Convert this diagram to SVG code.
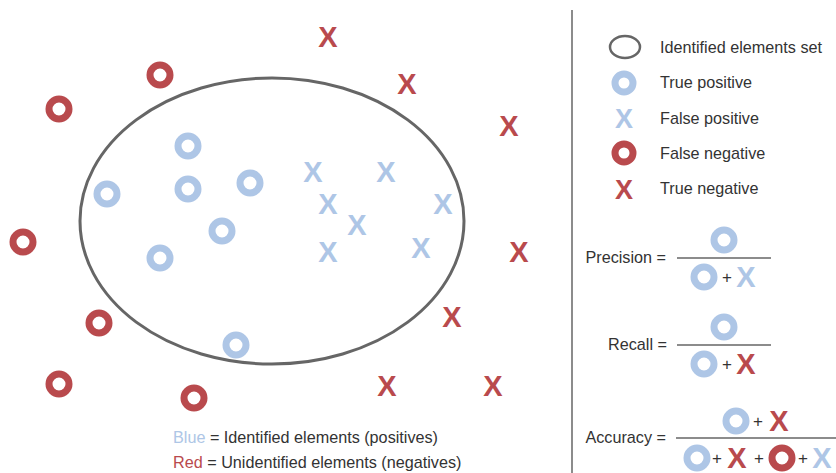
<svg xmlns="http://www.w3.org/2000/svg" width="836" height="473" viewBox="0 0 836 473">
<style>
.bo{fill:none;stroke:#aec6e6;stroke-width:7}
.ro{fill:none;stroke:#b94a4d;stroke-width:7}
.bx{fill:#aec6e6;font-family:"Liberation Sans",Arial,sans-serif;font-weight:bold;font-size:29px;text-anchor:middle}
.rx{fill:#b94a4d;font-family:"Liberation Sans",Arial,sans-serif;font-weight:bold;font-size:29px;text-anchor:middle}
.t{fill:#333;font-family:"Liberation Sans",Arial,sans-serif;font-size:16.2px}
.pl{fill:#333;font-family:"Liberation Sans",Arial,sans-serif;font-size:17px;text-anchor:middle}
.ln{stroke:#666;stroke-width:1.5}
</style>
<rect width="836" height="473" fill="#fff"/>
<g id="set"><ellipse cx="272" cy="221" rx="192" ry="143" fill="none" stroke="#666" stroke-width="3"/></g>
<g id="true-positives">
<circle class="bo" cx="188" cy="146" r="10"/>
<circle class="bo" cx="107" cy="194" r="10"/>
<circle class="bo" cx="188" cy="189" r="10"/>
<circle class="bo" cx="250" cy="183" r="10"/>
<circle class="bo" cx="222" cy="231" r="10"/>
<circle class="bo" cx="160" cy="258" r="10"/>
<circle class="bo" cx="236" cy="345" r="10"/>
</g>
<g id="false-positives">
<text class="bx" x="313" y="182">X</text>
<text class="bx" x="386" y="182">X</text>
<text class="bx" x="328" y="214">X</text>
<text class="bx" x="357" y="235">X</text>
<text class="bx" x="443" y="214">X</text>
<text class="bx" x="328" y="262">X</text>
<text class="bx" x="421" y="258">X</text>
</g>
<g id="false-negatives">
<circle class="ro" cx="160" cy="75" r="10"/>
<circle class="ro" cx="59" cy="109" r="10"/>
<circle class="ro" cx="23" cy="242" r="10"/>
<circle class="ro" cx="99" cy="323" r="10"/>
<circle class="ro" cx="59" cy="384" r="10"/>
<circle class="ro" cx="194" cy="398" r="10"/>
</g>
<g id="true-negatives">
<text class="rx" x="328" y="47">X</text>
<text class="rx" x="407" y="94">X</text>
<text class="rx" x="509" y="136">X</text>
<text class="rx" x="519" y="262">X</text>
<text class="rx" x="452" y="327">X</text>
<text class="rx" x="387" y="396">X</text>
<text class="rx" x="493" y="396">X</text>
</g>
<g id="caption">
<text class="t" x="173" y="443"><tspan fill="#aec6e6">Blue</tspan> = Identified elements (positives)</text>
<text class="t" x="173" y="468"><tspan fill="#b94a4d">Red</tspan> = Unidentified elements (negatives)</text>
</g>
<g id="divider"><line x1="572" y1="10" x2="572" y2="473" stroke="#666" stroke-width="1.5"/></g>
<g id="legend">
<ellipse cx="625" cy="47" rx="15" ry="11" fill="none" stroke="#666" stroke-width="2.5"/>
<text class="t" x="660" y="53">Identified elements set</text>
<circle class="bo" cx="624" cy="83" r="9"/>
<text class="t" x="660" y="88">True positive</text>
<text class="bx" x="624" y="128" style="font-size:27px">X</text>
<text class="t" x="660" y="124">False positive</text>
<circle class="ro" cx="624" cy="153" r="9"/>
<text class="t" x="660" y="159">False negative</text>
<text class="rx" x="624" y="199" style="font-size:27px">X</text>
<text class="t" x="660" y="194">True negative</text>
</g>
<g id="precision">
<text class="t" x="666" y="263" text-anchor="end">Precision =</text>
<line class="ln" x1="677" y1="258" x2="771" y2="258"/>
<circle class="bo" cx="724" cy="240" r="10"/>
<circle class="bo" cx="704" cy="277" r="10"/>
<text class="pl" x="727" y="283">+</text>
<text class="bx" x="746" y="287">X</text>
</g>
<g id="recall">
<text class="t" x="667" y="350" text-anchor="end">Recall =</text>
<line class="ln" x1="677" y1="345" x2="771" y2="345"/>
<circle class="bo" cx="724" cy="327" r="10"/>
<circle class="bo" cx="704" cy="364" r="10"/>
<text class="pl" x="727" y="370">+</text>
<text class="rx" x="746" y="374">X</text>
</g>
<g id="accuracy">
<text class="t" x="666" y="443" text-anchor="end">Accuracy =</text>
<line class="ln" x1="676" y1="438" x2="836" y2="438"/>
<circle class="bo" cx="736" cy="421" r="10"/>
<text class="pl" x="758" y="427">+</text>
<text class="rx" x="779" y="431">X</text>
<circle class="bo" cx="697" cy="458" r="10"/>
<text class="pl" x="717" y="464">+</text>
<text class="rx" x="737" y="468">X</text>
<text class="pl" x="759" y="464">+</text>
<circle class="ro" cx="782" cy="458" r="10"/>
<text class="pl" x="803" y="464">+</text>
<text class="bx" x="822" y="468">X</text>
</g>
</svg>
